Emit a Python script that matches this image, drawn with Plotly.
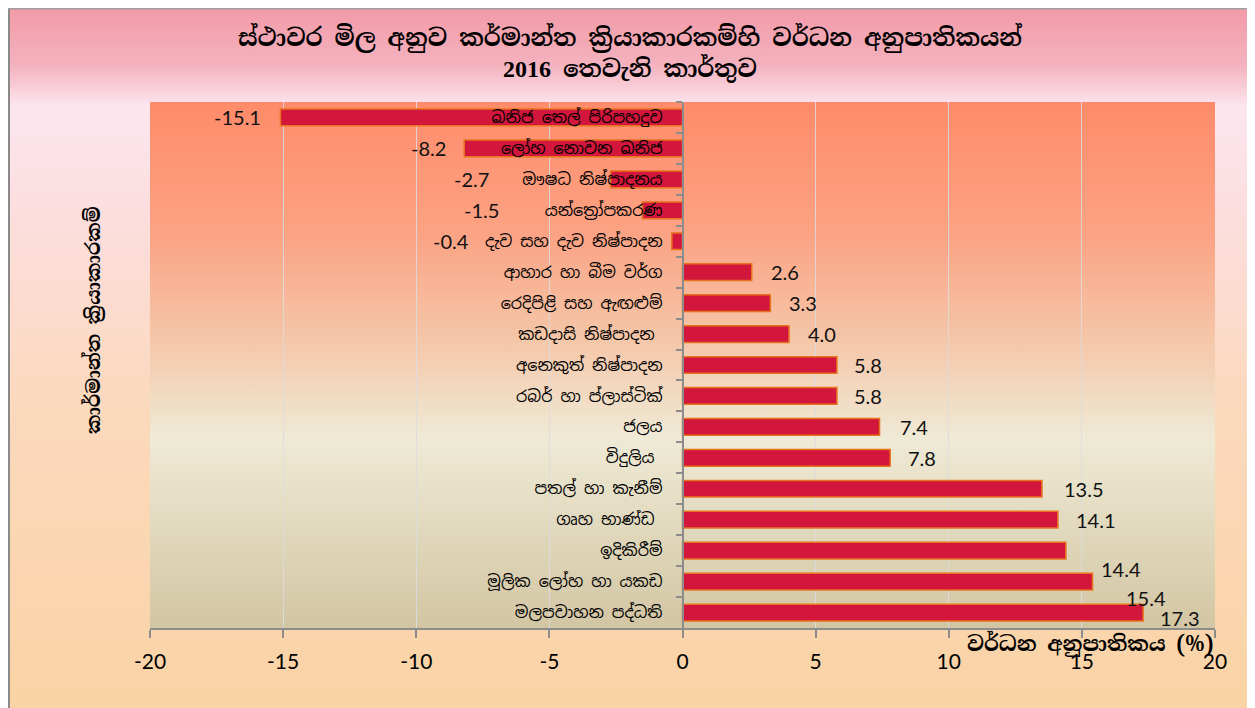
import base64
import plotly.graph_objects as go

# ---------------- data ----------------
categories = [
    "ඛනිජ තෙල් පිරිපහදුව",
    "ලෝහ නොවන ඛනිජ",
    "ඖෂධ නිෂ්පාදනය",
    "යන්ත්‍රෝපකරණ",
    "දැව සහ දැව නිෂ්පාදන",
    "ආහාර හා බීම වර්ග",
    "රෙදිපිළි සහ ඇඟළුම්",
    "කඩදාසි නිෂ්පාදන ",
    "අනෙකුත් නිෂ්පාදන",
    "රබර් හා ප්ලාස්ටික්",
    "ජලය",
    "විදුලිය ",
    "පතල් හා කැනීම්",
    "ගෘහ භාණ්ඩ ",
    "ඉදිකිරීම්",
    "මූලික ලෝහ හා යකඩ",
    "මලපවාහන පද්ධති",
]
values = [-15.1, -8.2, -2.7, -1.5, -0.4, 2.6, 3.3, 4.0, 5.8, 5.8, 7.4, 7.8,
          13.5, 14.1, 14.4, 15.4, 17.3]
x_ticks = [-20, -15, -10, -5, 0, 5, 10, 15, 20]

title_line1 = "ස්ථාවර මිල අනුව කර්මාන්ත ක්‍රියාකාරකම්හි වර්ධන අනුපාතිකයන්"
title_year = "2016"
title_line2 = "තෙවැනි කාර්තුව"
y_title = "කාර්මාන්ත ක්‍රියාකාරකම්"
x_title = "වර්ධන අනුපාතිකය (%)"

# data-label offsets in pixels (styling, as placed in the original)
label_dx = [-17, -16, -120, -142, -201, 17, 17, 17, 15, 15, 18, 16, 20, 16, 33, 31, 15]
label_dy = [0, 0, 0, 0, 0, 0, 0, 0, 0, 0, 0, 0, 0, 0, -18, -16, -5]

# ---------------- styling ----------------
SIN = "Noto Sans Sinhala, Noto Serif Sinhala, Iskoola Pota, Liberation Serif, serif"
SIN_SERIF = "Noto Serif Sinhala, Noto Sans Sinhala, Liberation Serif, Times New Roman, serif"
NUM = "Lato, Carlito, Open Sans, sans-serif"

OFF = 8  # page offset of the figure (browser body margin)
W, H = 1255, 708
L, R, T, B = 142, 48, 94, 88
pw, ph = W - L - R, H - T - B


def px_x(page_x):
    return (page_x - OFF - L) / pw


def px_y(page_y):
    return (H - B - (page_y - OFF)) / ph


def grad_svg(stops):
    st = "".join(f'<stop offset="{o}" stop-color="{c}"/>' for o, c in stops)
    svg = (
        '<svg xmlns="http://www.w3.org/2000/svg" width="100" height="100" preserveAspectRatio="none">'
        '<defs><linearGradient id="g" x1="0" y1="0" x2="0" y2="1">'
        f"{st}</linearGradient></defs>"
        '<rect x="0" y="0" width="100" height="100" fill="url(#g)"/></svg>'
    )
    return "data:image/svg+xml;base64," + base64.b64encode(svg.encode()).decode()


outer_stops = [(0, "#F29AA8"), (0.08, "#F4B2BE"), (0.14, "#FCE6EF"),
               (0.28, "#FCDEDF"), (0.55, "#FBD9BE"), (1, "#FAD3A4")]
plot_stops = [(0, "#FF8B6A"), (0.25, "#FBA384"), (0.45, "#F5C6A8"),
              (0.64, "#EFEAD6"), (0.85, "#DED5B8"), (1, "#D2C5A3")]

fig = go.Figure()
fig.add_trace(go.Bar(
    x=values, y=categories, orientation="h", width=0.54,
    marker=dict(color="#D2163C", line=dict(color="#E8731C", width=1.5)),
    hoverinfo="x+y", showlegend=False,
))

annotations = []
for c, v, dx, dy in zip(categories, values, label_dx, label_dy):
    annotations.append(dict(
        x=v, y=c, xref="x", yref="y", text=f"{v:.1f}", showarrow=False,
        xanchor="right" if v < 0 else "left", yanchor="middle",
        xshift=dx, yshift=dy, font=dict(family=NUM, size=20, color="#111111"),
    ))

annotations.append(dict(
    x=px_x(93), y=px_y(320), xref="paper", yref="paper", text=f"<b>{y_title}</b>",
    textangle=-90, showarrow=False, xanchor="center", yanchor="middle",
    font=dict(family=SIN_SERIF, size=19, color="#000000"),
))
annotations.append(dict(
    x=px_x(1090), y=px_y(643), xref="paper", yref="paper", text=f"<b>{x_title}</b>",
    showarrow=False, xanchor="center", yanchor="middle",
    font=dict(family=SIN_SERIF, size=21, color="#000000"),
))

images = [
    dict(source=grad_svg(outer_stops), xref="paper", yref="paper",
         x=-L / pw, y=1 + T / ph, sizex=W / pw, sizey=H / ph,
         sizing="stretch", layer="below", xanchor="left", yanchor="top"),
    dict(source=grad_svg(plot_stops), xref="paper", yref="paper",
         x=0, y=1, sizex=1, sizey=1,
         sizing="stretch", layer="below", xanchor="left", yanchor="top"),
]

shapes = [
    dict(type="line", xref="paper", yref="paper", x0=(1 - L) / pw, x1=(1 - L) / pw,
         y0=1 + T / ph, y1=-B / ph, line=dict(color="#8A8A8A", width=2)),
    dict(type="line", xref="paper", yref="paper", x0=-L / pw, x1=1 + R / pw,
         y0=1 + (T - 0.75) / ph, y1=1 + (T - 0.75) / ph, line=dict(color="#A0A0A0", width=1.5)),
]

fig.update_layout(
    width=W, height=H,
    margin=dict(l=L, r=R, t=T, b=B),
    paper_bgcolor="#FFFFFF",
    plot_bgcolor="rgba(0,0,0,0)",
    title=dict(
        text=(f"<b>{title_line1}<br>"
              f"<span style='font-family:Liberation Serif, Times New Roman, serif'>{title_year}</span>"
              f" {title_line2}</b>"),
        x=(630 - OFF) / W, xanchor="center", y=1 - 38 / H, yanchor="middle",
        font=dict(family=SIN_SERIF, size=24, color="#000000"),
    ),
    xaxis=dict(
        range=[-20, 20], tickvals=x_ticks, ticktext=[str(t) for t in x_ticks],
        showgrid=True, gridcolor="rgba(220,220,225,0.85)", gridwidth=1,
        zeroline=False, showline=True, linecolor="#8C8C8C", linewidth=1.5,
        ticks="outside", ticklen=8, tickcolor="#8C8C8C", tickwidth=1.5,
        ticklabelstandoff=6,
        tickfont=dict(family=NUM, size=21, color="#000000"),
        fixedrange=True,
    ),
    yaxis=dict(
        autorange="reversed", type="category",
        anchor="free", position=0.5,
        showgrid=False, zeroline=False, showline=True, linecolor="#8C8C8C", linewidth=1.5,
        ticks="outside", ticklen=6, tickcolor="#8C8C8C", tickwidth=1.5,
        tickson="boundaries", ticksuffix="\u00a0\u00a0",
        tickfont=dict(family=SIN, size=16, color="#000000"),
        fixedrange=True,
    ),
    annotations=annotations,
    images=images,
    shapes=shapes,
)

fig.write_html("out.html")
